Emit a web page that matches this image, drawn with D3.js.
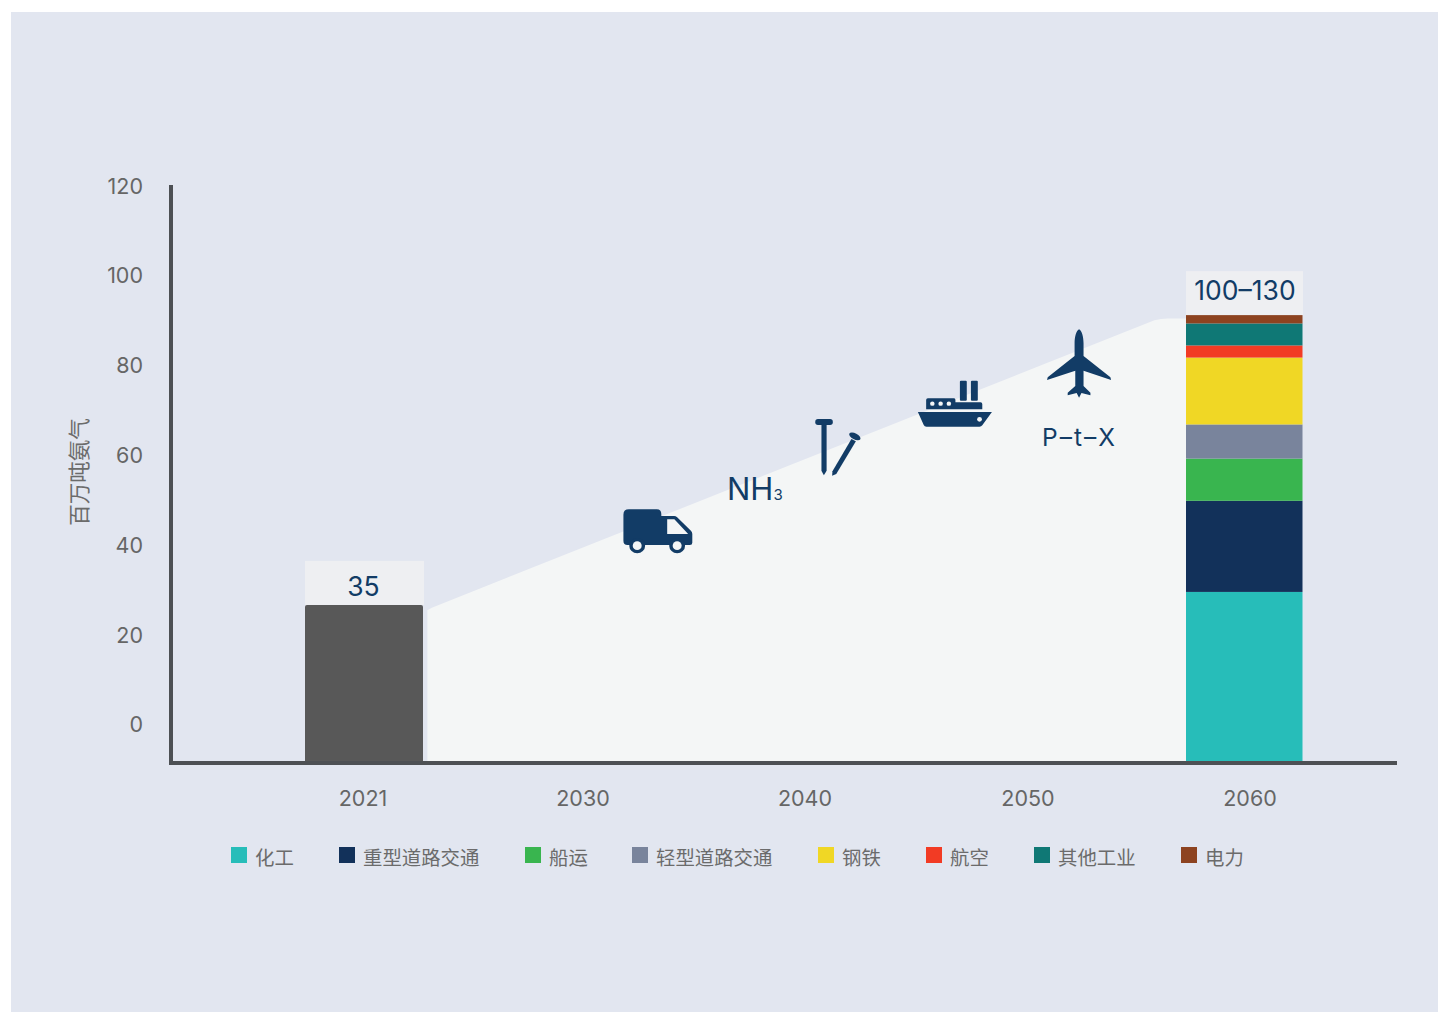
<!DOCTYPE html>
<html lang="zh">
<head>
<meta charset="utf-8">
<script src="https://cdn.jsdelivr.net/npm/d3@7"></script>
<style>
html,body{margin:0;padding:0;background:#fff}
svg{display:block}
text{font-family:"Inter","Noto Sans CJK SC",sans-serif}
.cjk{font-family:"Noto Sans CJK SC",sans-serif}
</style>
</head>
<body>
<div id="chart"></div>
<script>
const years = [2021, 2030, 2040, 2050, 2060];
const yTicks = [0, 20, 40, 60, 80, 100, 120];
const segments = ["化工", "重型道路交通", "船运", "轻型道路交通", "钢铁", "航空", "其他工业", "电力"];
const segmentValues = [38.1, 20.3, 9.4, 7.6, 14.9, 2.7, 4.9, 1.85];
const segmentColors = ["#27bdb9", "#12315a", "#39b54f", "#79849c", "#f0d725", "#f23b24", "#0f7875", "#8d4320"];
const bar2021Value = 35.2;
const barLabels = ["35", "100–130"];
const areaYears = [2023.0, 2023.2, 2055.7, 2056.0, 2056.3, 2057.2];
const areaValues = [34.0, 34.6, 98.6, 98.9, 99.0, 99.0];
const legendX = [231, 339, 525, 632, 818, 926, 1034, 1181];
const yAxisTitle = "百万吨氨气";

const W = 1438, H = 1012;
const BASE = 763, UNIT = 4.49, TICK_SHIFT = 38;
const svg = d3.select("#chart").append("svg").attr("width", W).attr("height", H);
svg.append("rect").attr("x", 11).attr("y", 12).attr("width", W - 11).attr("height", H - 12).attr("fill", "#e2e6f0");

const y = d3.scaleLinear().domain([0, 100]).range([BASE, BASE - 100 * UNIT]);
const xTick = d3.scaleOrdinal().domain(years).range([362.5, 582.5, 804.5, 1027.5, 1249.5]);
const xYear = d3.scaleLinear().domain([2030, 2060]).range([583, 1250]);

// Ramp area
const areaData = areaYears.map((yr, i) => ({yr, v: areaValues[i]}));
const area = d3.area().x(d => xYear(d.yr)).y0(y(0)).y1(d => y(d.v));
svg.append("path").datum(areaData).attr("d", area).attr("fill", "#f4f6f6");

// 2021 bar
const barW = 118;
svg.append("rect").attr("x", 305).attr("width", barW + 1).attr("y", y(bar2021Value) - 44).attr("height", 44).attr("fill", "#eeeff2");
svg.append("rect").attr("x", 305).attr("width", barW).attr("y", y(bar2021Value)).attr("height", y(0) - y(bar2021Value)).attr("rx", 2).attr("fill", "#585858");
svg.append("text").attr("x", 363.5).attr("y", y(bar2021Value) - 9).attr("text-anchor", "middle")
  .attr("font-size", 26.5).attr("fill", "#123c66").text(barLabels[0]);

// 2060 stacked bar
const stacked = d3.cumsum(segmentValues);
const total = stacked[stacked.length - 1];
svg.append("rect").attr("x", 1186).attr("width", 117).attr("y", y(total) - 44).attr("height", 44).attr("fill", "#eeeff2");
svg.append("g").selectAll("rect").data(segmentValues).join("rect")
  .attr("x", 1186).attr("width", 116.5)
  .attr("y", (d, i) => y(stacked[i]))
  .attr("height", d => y(0) - y(d))
  .attr("fill", (d, i) => segmentColors[i]);
svg.append("text").attr("x", 1245).attr("y", y(total) - 15.5).attr("text-anchor", "middle")
  .attr("font-size", 26.5).attr("fill", "#123c66").text(barLabels[1]);

// Axes
const yAxis = d3.axisLeft(y).tickValues(yTicks).tickSize(0).tickPadding(0).tickFormat(d3.format("d"));
const yG = svg.append("g").attr("transform", `translate(143,${-TICK_SHIFT})`).call(yAxis);
yG.select(".domain").remove();
yG.selectAll("text").attr("font-size", 21.5).attr("fill", "#666").attr("font-family", null);

const xAxis = d3.axisBottom(xTick).tickSize(0).tickPadding(0).tickFormat(d3.format("d"));
const xG = svg.append("g").attr("transform", "translate(0,791)").call(xAxis);
xG.select(".domain").remove();
xG.selectAll("text").attr("font-size", 21.5).attr("dy", "0.71em").attr("y", 0).attr("fill", "#666").attr("font-family", null);

svg.append("line").attr("x1", 171).attr("x2", 171).attr("y1", 185).attr("y2", 765).attr("stroke", "#4d5054").attr("stroke-width", 4);
svg.append("line").attr("x1", 169).attr("x2", 1397).attr("y1", 763).attr("y2", 763).attr("stroke", "#4d5054").attr("stroke-width", 4);

svg.append("text").attr("class", "cjk").attr("transform", "translate(87,472) rotate(-90)").attr("text-anchor", "middle")
  .attr("font-size", 21.5).attr("fill", "#6b6b6b").text(yAxisTitle);

// Legend
const leg = svg.append("g").selectAll("g").data(segments).join("g")
  .attr("transform", (d, i) => `translate(${legendX[i]},847)`);
leg.append("rect").attr("width", 16).attr("height", 16).attr("fill", (d, i) => segmentColors[i]);
leg.append("text").attr("class", "cjk").attr("x", 24).attr("y", 18).attr("font-size", 19.4).attr("fill", "#6b6b6b").text(d => d);

// Pictograms, drawn in a local space
const NAVY = "#123c66", LIGHT = "#f4f6f6";
const ic = svg.append("g").attr("transform", "translate(600,320) scale(0.3444,0.3333)");
ic.append("path").attr("fill", NAVY).attr("d",
  "M84 568H165Q178 568 178 582V588H215Q220 588 224 592L264 632Q268 636 268 642V668Q268 675 261 675H80Q68 675 68 662V584Q68 568 84 568Z");
ic.append("path").attr("fill", LIGHT).attr("d", "M195 598H216L256 642H195Z");
[108, 224].forEach(cx => {
  ic.append("circle").attr("cx", cx).attr("cy", 677).attr("r", 23).attr("fill", NAVY);
  ic.append("circle").attr("cx", cx).attr("cy", 677).attr("r", 13).attr("fill", LIGHT);
});
// Nails
ic.append("rect").attr("x", 625).attr("y", 297).attr("width", 51).attr("height", 18).attr("rx", 8).attr("fill", NAVY);
ic.append("path").attr("fill", NAVY).attr("d", "M643 312H658V452L650 466L643 452Z");
ic.append("path").attr("fill", NAVY).attr("d", "M730 357L743 364L686 462L674 467L675 454Z");
ic.append("ellipse").attr("cx", 740).attr("cy", 349).attr("rx", 18).attr("ry", 9).attr("transform", "rotate(28 740 349)").attr("fill", NAVY);
// Ship
ic.append("path").attr("fill", NAVY).attr("d", "M923 276H1138L1110 316Q1107 320 1102 320H948Q942 320 940 315Z");
ic.append("path").attr("fill", NAVY).attr("d", "M952 235H1028Q1032 235 1032 240V247H1105Q1110 247 1110 252V268H947V240Q947 235 952 235Z");
ic.append("rect").attr("x", 1045).attr("y", 182).attr("width", 20).attr("height", 60).attr("rx", 3).attr("fill", NAVY);
ic.append("rect").attr("x", 1077).attr("y", 182).attr("width", 20).attr("height", 60).attr("rx", 3).attr("fill", NAVY);
[965, 989, 1013].forEach(cx => ic.append("circle").attr("cx", cx).attr("cy", 251).attr("r", 6.5).attr("fill", LIGHT));
ic.append("circle").attr("cx", 1102).attr("cy", 298).attr("r", 7).attr("fill", LIGHT);
// Plane
ic.append("path").attr("fill", NAVY).attr("d",
  "M1391 28C1399 32 1404 50 1404 70V108L1482 172L1484 180L1404 152V198L1424 218V226L1398 219L1391 233L1384 219L1358 226V218L1380 198V152L1298 180L1300 172L1378 108V70C1378 50 1383 32 1391 28Z");

// Pathway labels
svg.append("text").attr("x", 727).attr("y", 500).attr("font-size", 31).attr("fill", NAVY)
  .text("NH").append("tspan").attr("font-size", 15).text("3");
svg.append("text").attr("x", 1042).attr("y", 446).attr("font-size", 24.5).attr("letter-spacing", 2).attr("fill", NAVY).text("P–t–X");
</script>
</body>
</html>
